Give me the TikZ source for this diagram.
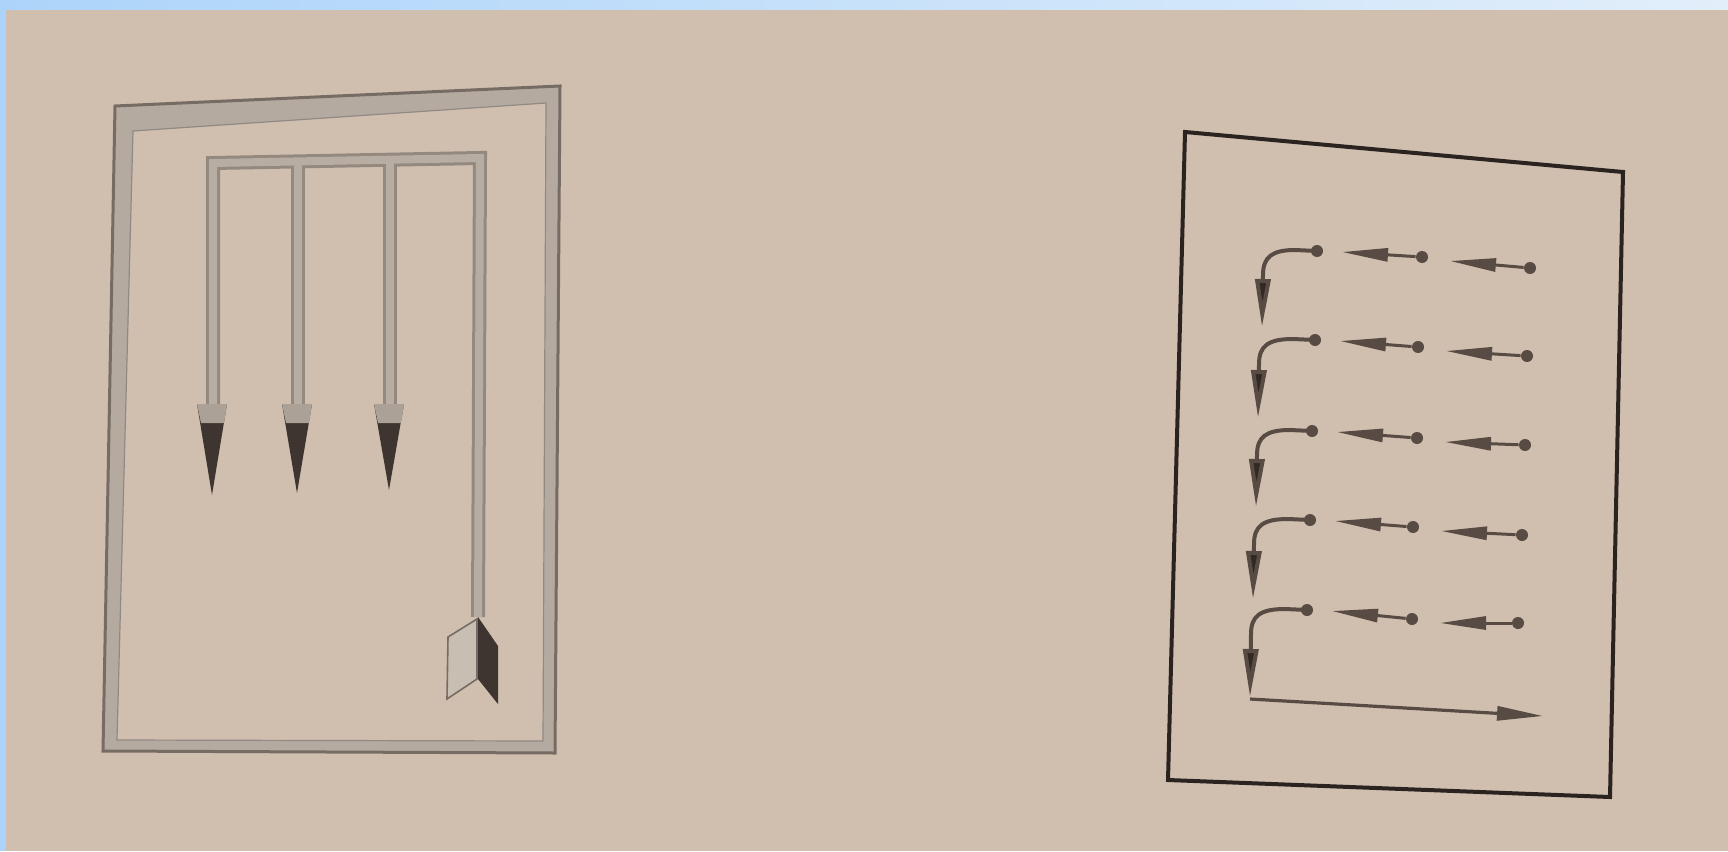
\documentclass[tikz,border=0pt]{standalone}
\usetikzlibrary{arrows.meta}
\definecolor{page}{RGB}{208,191,175}
\definecolor{blueA}{RGB}{172,212,250}
\definecolor{blueB}{RGB}{226,238,250}
\definecolor{framefill}{RGB}{180,170,160}
\definecolor{frameedge}{RGB}{118,108,100}
\definecolor{shaftout}{RGB}{148,137,127}
\definecolor{shaftin}{RGB}{184,173,162}
\definecolor{headdark}{RGB}{62,52,48}
\definecolor{headlight}{RGB}{172,161,150}
\definecolor{vanelight}{RGB}{200,190,178}
\definecolor{rframe}{RGB}{42,35,32}
\definecolor{rline}{RGB}{88,75,67}
\definecolor{rhead}{RGB}{50,41,37}
\tikzset{
  rbox/.style={draw=rframe, line width=2pt, line join=miter},
  shaftA/.style={draw=shaftout, line width=7pt, line join=miter},
  shaftB/.style={draw=shaftin, line width=4pt, line join=miter},
  ldot/.style={circle, fill=rline, inner sep=0pt, minimum size=6pt},
  smallarrow/.style={draw=rline, line width=1.5pt, -{Triangle[length=23pt,width=6.5pt]}},
  curvarrow/.style={draw=rline, line width=2pt, -{Triangle[length=24pt,width=7.5pt,fill=rhead]}},
  longarrow/.style={draw=rline, line width=1.6pt, -{Triangle[length=23pt,width=7pt]}},
}
\begin{document}
\begin{tikzpicture}[x=0.5pt,y=-0.5pt]
\useasboundingbox (0,0) rectangle (1728,851);
\fill[page] (0,0) rectangle (1728,851);
\shade[left color=blueA, right color=blueB] (0,0) rectangle (1728,9);
\fill[blueA] (0,0) rectangle (6,851);

% ---------- left diagram ----------
\fill[framefill] (115,106) -- (560,86) -- (555,753) -- (103,751) -- cycle;
\draw[frameedge, line width=1.5pt, line join=miter] (115,106) -- (560,86) -- (555,753) -- (103,751) -- cycle;
\fill[page] (133,131) -- (546,103) -- (543,741) -- (117,740) -- cycle;
\draw[frameedge!80, line width=0.6pt] (133,131) -- (546,103) -- (543,741) -- (117,740) -- cycle;

\coordinate (s1b) at (213,405);
\coordinate (s1t) at (213,163);
\coordinate (s4t) at (480,158);
\coordinate (s4b) at (478,617);
\coordinate (s2t) at (298,161);
\coordinate (s2b) at (298,405);
\coordinate (s3t) at (390,160);
\coordinate (s3b) at (390,405);

\draw[shaftA] (s1b) -- (s1t) -- (s4t) -- (s4b);
\draw[shaftA] (s2t) -- (s2b);
\draw[shaftA] (s3t) -- (s3b);
\draw[shaftB] (s1b) -- (s1t) -- (s4t) -- (s4b);
\draw[shaftB] (s2t) -- (s2b);
\draw[shaftB] (s3t) -- (s3b);

\foreach \cx/\ty in {213/495, 298/493, 390/490} {
  \fill[headdark] (\cx-16,404) -- (\cx+14,404) -- (\cx-1,\ty) -- cycle;
  \fill[headlight] (\cx-16,404) -- (\cx+14,404) -- (\cx+11,423) -- (\cx-12,423) -- cycle;
}

% fletching
\filldraw[fill=vanelight, draw=frameedge, line width=0.8pt] (477,619) -- (448,637) -- (447,699) -- (477,679) -- cycle;
\fill[headdark] (478,617) -- (498,646) -- (498,704) -- (478,679) -- cycle;

% ---------- right diagram ----------
\draw[rbox] (1185,132) -- (1623,172) -- (1610,797) -- (1168,780) -- cycle;

\foreach \i/\xa/\ya/\xb/\yb/\xc/\yc/\xt/\yt in {
  0/1317/251/1422/257/1530/268/1262/327,
  1/1315/340/1418/347/1527/356/1258/418,
  2/1312/431/1417/438/1525/445/1256/507,
  3/1310/520/1413/527/1522/535/1253/599,
  4/1307/610/1412/619/1518/623/1250/697} {
  \node[ldot] (da\i) at (\xa,\ya) {};
  \node[ldot] (db\i) at (\xb,\yb) {};
  \node[ldot] (dc\i) at (\xc,\yc) {};
  \coordinate (tb\i) at (\xa+25,\ya+1);
  \coordinate (tc\i) at (\xb+28,\yb+4);
  \coordinate (ct\i) at (\xt,\yt);
  \draw[smallarrow] (db\i) -- (tb\i);
  \draw[smallarrow] (dc\i) -- (tc\i);
  \draw[curvarrow] (da\i.center) -- (\xa-22,\ya-1)
     .. controls (\xt+10,\ya-1) and (\xt+1,\ya+6) .. (\xt+1,\ya+24) -- (ct\i);
}
\coordinate (corner) at (1250,699);
\coordinate (bend) at (1543,716);
\draw[longarrow] (corner) -- (bend);
\end{tikzpicture}
\end{document}
